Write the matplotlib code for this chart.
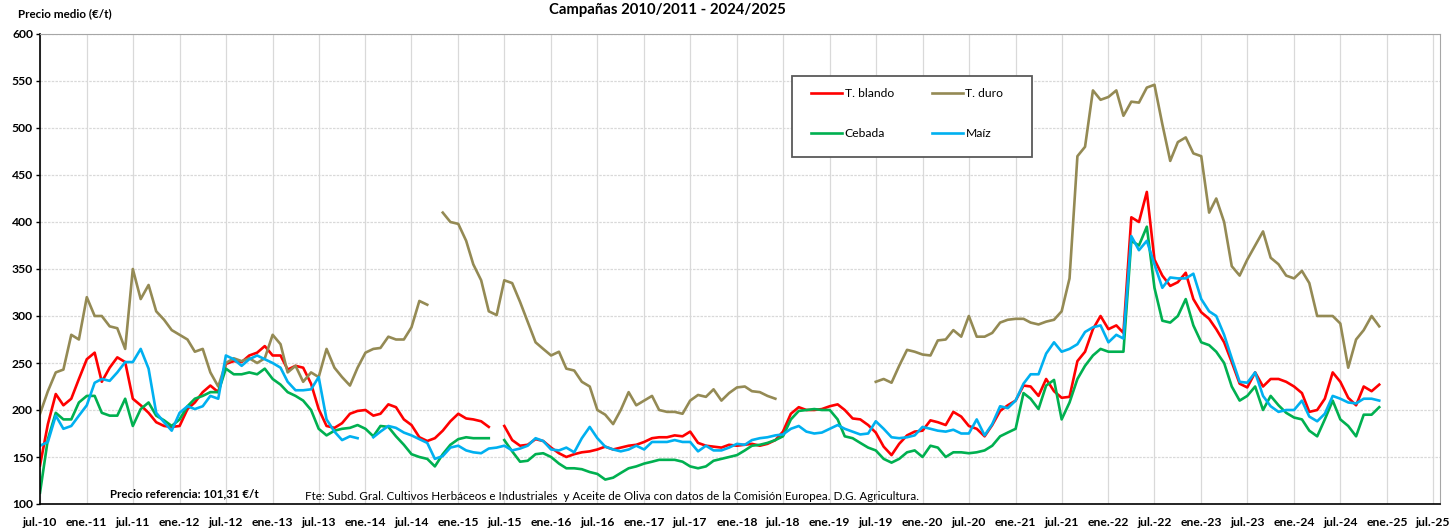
import numpy as np
import pandas as pd
import matplotlib
matplotlib.use("Agg")
import matplotlib.pyplot as plt
from matplotlib.patches import Rectangle

plt.rcParams['font.family'] = ['Lato', 'DejaVu Sans']

nan = np.nan
start_month = "2010-07-01"

t_blando = [141, 185, 217, 205, 212, 233, 254, 261, 230, 245, 256, 251, 212, 205, 197, 187, 183, 182, 183, 201, 208, 219, 226, 219, 249, 252, 251, 258, 261, 268, 258,
            258, 243, 247, 245, 228, 201, 183, 181, 186, 196, 199, 200, 194, 196, 206, 203, 190, 184, 171, 167, 170, 178, 188, 196, 191, 190, 188, 182, nan, 183, 168,
            162, 163, 169, 167, 160, 154, 150, 153, 155, 156, 158, 161, 158, 160, 162, 163, 166, 170, 171, 171, 173, 172, 177, 165, 162, 161, 160, 163, 162, 163, 164,
            162, 164, 168, 177, 196, 203, 200, 200, 201, 204, 206, 200, 191, 190, 184, 176, 161, 152, 164, 173, 177, 178, 189, 187, 184, 198, 193, 183, 180, 172, 184, 199,
            205, 210, 226, 225, 215, 233, 220, 213, 214, 252, 262, 286, 300, 286, 290, 282, 405, 400, 432, 360, 343, 332, 336, 346, 318, 304, 297, 286, 272, 251, 228,
            224, 240, 225, 233, 233, 230, 225, 218, 198, 200, 212, 240, 230, 213, 205, 225, 220, 227]

t_duro = [196, 220, 240, 243, 280, 275, 320, 300, 300, 289, 287, 265, 350, 318, 333, 305, 296, 285, 280, 275, 262, 265, 240, 225, 250, 255, 252, 255, 250, 255, 280,
          270, 240, 247, 230, 240, 235, 265, 245, 235, 226, 245, 261, 265, 266, 278, 275, 275, 288, 316, 312, nan, 410, 400, 398, 380, 355, 338, 305, 301, 338, 335,
          315, 294, 272, 265, 258, 262, 244, 242, 230, 225, 200, 195, 185, 200, 219, 205, 210, 215, 200, 198, 198, 196, 210, 216, 214, 222, 210, 218, 224, 225, 220,
          219, 215, 212, nan, nan, nan, nan, nan, nan, nan, nan, nan, nan, nan, nan, 230, 233, 229, 247, 264, 262, 259, 258, 274, 275, 285, 278, 300, 278, 278, 282, 293,
          296, 297, 297, 293, 291, 294, 296, 305, 340, 470, 480, 540, 530, 533, 540, 513, 528, 527, 543, 546, 504, 465, 485, 490, 473, 470, 410, 425, 400, 353, 343,
          360, 375, 390, 362, 355, 343, 340, 348, 335, 300, 300, 300, 292, 245, 275, 285, 300, 289]

cebada = [112, 169, 197, 190, 190, 208, 215, 215, 197, 194, 194, 212, 183, 201, 208, 194, 189, 183, 190, 204, 212, 215, 219, 219, 244, 238, 238, 240, 238, 244, 233,
          227, 219, 215, 210, 200, 180, 173, 178, 180, 181, 184, 180, 172, 183, 182, 172, 163, 153, 150, 148, 140, 153, 163, 169, 171, 170, 170, 170, nan, 168, 156,
          145, 146, 153, 154, 150, 143, 138, 138, 137, 134, 132, 126, 128, 133, 138, 140, 143, 145, 147, 147, 147, 145, 140, 138, 140, 146, 148, 150, 152, 157, 162,
          163, 165, 168, 172, 190, 199, 200, 201, 200, 200, 190, 172, 170, 165, 160, 157, 148, 144, 148, 155, 157, 150, 162, 160, 150, 155, 155, 154, 155, 157, 162, 172,
          176, 180, 218, 212, 201, 226, 232, 190, 208, 233, 247, 258, 265, 262, 262, 262, 380, 375, 395, 330, 295, 293, 300, 318, 290, 272, 269, 262, 250, 225, 210,
          215, 225, 200, 215, 205, 197, 192, 190, 178, 172, 190, 210, 190, 183, 172, 195, 195, 203]

maiz = [162, 166, 194, 180, 183, 194, 205, 229, 233, 231, 240, 251, 251, 265, 244, 197, 187, 178, 197, 204, 201, 204, 215, 212, 258, 254, 247, 254, 258, 254, 250,
        245, 230, 221, 221, 222, 235, 190, 177, 168, 172, 170, nan, 171, 177, 183, 181, 176, 173, 169, 165, 148, 151, 160, 162, 157, 155, 154, 159, 160, 162, 157,
        159, 162, 170, 167, 158, 157, 160, 155, 170, 182, 170, 161, 158, 156, 158, 162, 158, 166, 166, 166, 168, 166, 166, 156, 162, 157, 157, 160, 164, 163, 168,
        170, 171, 173, 174, 180, 183, 177, 175, 176, 180, 184, 180, 177, 174, 175, 188, 180, 171, 170, 171, 173, 182, 180, 178, 177, 179, 175, 175, 190, 173, 185, 204,
        202, 210, 228, 238, 238, 260, 272, 262, 265, 270, 283, 288, 290, 272, 280, 276, 385, 370, 380, 355, 330, 341, 340, 340, 345, 318, 305, 300, 280, 255, 230,
        229, 240, 215, 204, 198, 200, 200, 210, 193, 188, 196, 215, 212, 208, 207, 212, 212, 210]

series_names = ["T. blando", "T. duro", "Cebada", "Maíz"]
series_colors = ["#FF0000", "#948A54", "#00B050", "#00B0F0"]

dates = pd.date_range(start_month, periods=len(t_blando), freq="MS")
tick_dates = pd.date_range("2010-07-01", "2025-07-01", freq="6MS")
month_abbr = {1: "ene.", 7: "jul."}
tick_labels = [f"{month_abbr[d.month]}-{d.strftime('%y')}" for d in tick_dates]

W, H = 1453, 532
fig = plt.figure(figsize=(W / 100, H / 100), dpi=100)
ax = fig.add_axes([40 / W, 28 / H, 1400 / W, 470 / H])

lines = {}
for vals, name, col in zip([t_blando, t_duro, cebada, maiz], series_names, series_colors):
    lines[name], = ax.plot(dates, vals, color=col, lw=1.9, label=name, solid_joinstyle="round")

ax.set_ylim(100, 600)
ax.set_yticks(np.arange(100, 601, 50))
ax.set_xlim(pd.Timestamp("2010-07-01"), pd.Timestamp("2025-07-28"))
ax.set_xticks(tick_dates)
ax.set_xticklabels(tick_labels)

ax.grid(axis="x", color="#D9D9D9", lw=0.9, ls="-")
ax.grid(axis="y", color="#D9D9D9", lw=0.9, ls=(0, (2, 1)))
ax.set_axisbelow(True)

for lab in ax.get_xticklabels() + ax.get_yticklabels():
    lab.set_fontweight("bold")
    lab.set_fontsize(8.7)
ax.tick_params(axis="x", length=0, pad=9)
ax.tick_params(axis="y", length=3, width=1, pad=2, direction="out")

ax.spines["left"].set_color("black")
ax.spines["bottom"].set_color("black")
ax.spines["left"].set_linewidth(1.2)
ax.spines["bottom"].set_linewidth(1.2)
ax.spines["top"].set_color("#A6A6A6")
ax.spines["right"].set_color("#A6A6A6")

# legend box
fig.patches.append(Rectangle((792 / W, 1 - 157 / H), 240 / W, 81 / H, transform=fig.transFigure,
                             facecolor="white", edgecolor="#595959", lw=1.3, zorder=3))
order = ["T. blando", "Cebada", "T. duro", "Maíz"]
leg = fig.legend([lines[n] for n in order], order, ncol=2, loc="upper left",
                 bbox_to_anchor=(811 / W, 1 - 88 / H), bbox_transform=fig.transFigure,
                 fontsize=8.7, handlelength=2.6, handletextpad=0.2, columnspacing=3.1,
                 labelspacing=2.4, borderpad=0, borderaxespad=0, frameon=False)
leg.set_zorder(4)

fig.text(667 / W, 1 - 10 / H, "Campañas 2010/2011 - 2024/2025", ha="center", va="center",
         fontsize=10.7, fontweight="bold")
fig.text(18 / W, 1 - 14 / H, "Precio medio (€/t)", ha="left", va="center",
         fontsize=8.4, fontweight="bold")
fig.text(110 / W, 1 - 494 / H, "Precio referencia: 101,31 €/t", ha="left", va="center",
         fontsize=8.3, fontweight="bold")
fig.text(305 / W, 1 - 497 / H,
         "Fte: Subd. Gral. Cultivos Herbáceos e Industriales  y Aceite de Oliva con datos de la Comisión Europea. D.G. Agricultura.",
         ha="left", va="center", fontsize=8.35)

fig.savefig("out.png", dpi=100, facecolor="white")
